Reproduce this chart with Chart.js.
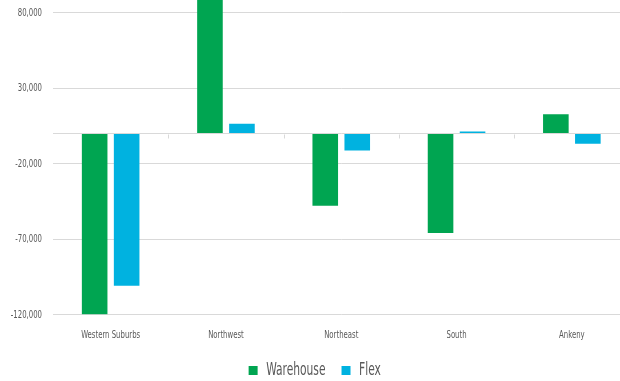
<!DOCTYPE html>
<html lang="en">
<head>
  <meta charset="UTF-8">
  <title>Net Absorption by Submarket</title>
  <script src="https://cdn.jsdelivr.net/npm/chart.js"></script>
  <style>
    html, body { margin: 0; padding: 0; background: white; overflow: hidden; }
    .box { position: absolute; left: 0; top: 0; width: 640px; height: 381px; }
  </style>
</head>
<body>
  <div class="box">
    <canvas id="chart" width="640" height="381"></canvas>
  </div>

  <script>
    const categories = ["Western Suburbs", "Northwest", "Northeast", "South", "Ankeny"];
    const warehouse = [-119600, 95000, -47800, -65900, 12800];
    const flex = [-100800, 6400, -11300, 1300, -6800];
    const yTicks = [-120000, -70000, -20000, 30000, 80000];

    const font = "'DejaVu Sans Condensed', 'DejaVu Sans', sans-serif";
    const grey = "#595959";

    // the original uses a very narrow font, none installed here -> squeeze text horizontally
    const SQUEEZE = 0.7;
    const ctx = document.getElementById("chart").getContext("2d");
    const fill = ctx.fillText.bind(ctx);
    const measure = ctx.measureText.bind(ctx);
    ctx.fillText = function (text, x, y) {
      ctx.save();
      ctx.translate(x, y);
      ctx.scale(SQUEEZE, 1);
      fill(text, 0, 0);
      ctx.restore();
    };
    ctx.measureText = function (text) {
      const m = measure(text);
      return {
        width: m.width * SQUEEZE,
        actualBoundingBoxAscent: m.actualBoundingBoxAscent,
        actualBoundingBoxDescent: m.actualBoundingBoxDescent
      };
    };

    // little tick marks under the zero line, between categories
    const zeroTicks = {
      id: "zeroTicks",
      afterDatasetsDraw(chart) {
        const { ctx, scales: { x, y } } = chart;
        const y0 = Math.round(y.getPixelForValue(0)) + 0.5;
        const half = (x.getPixelForValue(1) - x.getPixelForValue(0)) / 2;
        ctx.save();
        ctx.strokeStyle = "#d9d9d9";
        ctx.lineWidth = 1;
        for (let i = 0; i < categories.length - 1; i++) {
          const px = Math.round(x.getPixelForValue(i) + half) + 0.5;
          ctx.beginPath();
          ctx.moveTo(px, y0);
          ctx.lineTo(px, y0 + 4);
          ctx.stroke();
        }
        ctx.restore();
      }
    };

    new Chart(ctx, {
      type: "bar",
      data: {
        labels: categories,
        datasets: [
          { label: "Warehouse", data: warehouse, backgroundColor: "#00a551" },
          { label: "Flex", data: flex, backgroundColor: "#00b2e0" }
        ]
      },
      options: {
        responsive: false,
        animation: false,
        layout: { padding: { left: 0, right: 10.5, top: 0, bottom: -8 } },
        datasets: { bar: { categoryPercentage: 0.555, barPercentage: 0.8 } },
        plugins: {
          tooltip: { enabled: false },
          legend: {
            position: "bottom",
            labels: {
              font: { family: font, size: 17 },
              color: grey,
              boxWidth: 9,
              boxHeight: 9,
              padding: 16
            }
          }
        },
        scales: {
          x: {
            afterFit: s => { s.height = s.height - 2; },
            grid: { display: false },
            border: { display: false },
            ticks: { font: { family: font, size: 11 }, color: grey, padding: 6 }
          },
          y: {
            min: -120000,
            max: 88400,
            afterFit: s => { s.width = 53; s.paddingTop = 0; s.paddingBottom = 0; },
            afterBuildTicks: s => {
              s.ticks = yTicks.concat([0]).sort((a, b) => a - b).map(v => ({ value: v }));
            },
            grid: { color: "#d9d9d9", drawTicks: false },
            border: { display: false },
            ticks: {
              font: { family: font, size: 11 },
              color: grey,
              padding: 11,
              callback: v => v === 0 ? "" : v.toLocaleString("en-US")
            }
          }
        }
      },
      plugins: [zeroTicks]
    });
  </script>
</body>
</html>
